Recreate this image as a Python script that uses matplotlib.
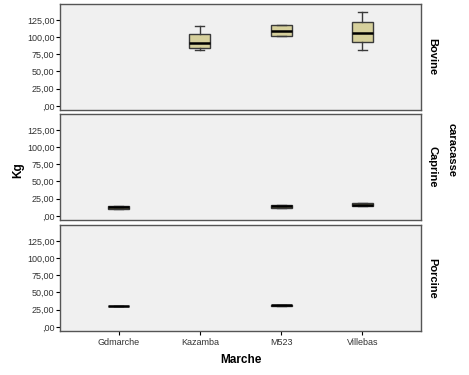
import matplotlib
matplotlib.use("Agg")
import matplotlib.pyplot as plt

# categories and facet rows
marches = ["Gdmarche", "Kazamba", "M523", "Villebas"]
especes = ["Bovine", "Caprine", "Porcine"]

# box stats: (position, whislo, q1, med, q3, whishi)
bovine = [(1, 81, 84, 92, 104, 116),
          (2, 102, 102, 109, 117, 117),
          (3, 81, 93, 106, 122, 136)]
caprine = [(0, 10, 10, 13, 15, 15),
           (2, 12, 12, 14, 16, 16),
           (3, 14, 14, 16, 18, 18)]
porcine = [(0, 30, 30, 30, 30, 30),
           (2, 30.5, 30.5, 31.5, 32.5, 32.5)]
series = [bovine, caprine, porcine]

yticks = [0, 25, 50, 75, 100, 125]
ytick_labels = [",00", "25,00", "50,00", "75,00", "100,00", "125,00"]

BOX_COLOR = "#d6d09c"
PANEL_BG = "#f0f0f0"

fig = plt.figure(figsize=(4.69, 3.75), dpi=100)
plt.rcParams["font.family"] = ["Liberation Sans", "DejaVu Sans"]

left, width, height = 60 / 469, 361 / 469, 106 / 375
bottoms = [1 - 110 / 375, 1 - 220 / 375, 1 - 331 / 375]

for i, (name, data) in enumerate(zip(especes, series)):
    ax = fig.add_axes([left, bottoms[i], width, height])
    ax.set_facecolor(PANEL_BG)
    stats = [dict(whislo=s[1], q1=s[2], med=s[3], q3=s[4], whishi=s[5],
                  fliers=[], label=marches[s[0]]) for s in data]
    pos = [s[0] for s in data]
    ax.bxp(stats, positions=pos, widths=0.26, patch_artist=True,
           boxprops=dict(facecolor=BOX_COLOR, edgecolor="#3a3a3a", linewidth=1),
           medianprops=dict(color="black", linewidth=1.8),
           whiskerprops=dict(color="#3a3a3a", linewidth=1),
           capprops=dict(color="#3a3a3a", linewidth=1),
           capwidths=0.11, showfliers=False)
    ax.set_xlim(-0.72, 3.72)
    ax.set_ylim(-6, 148)
    ax.set_yticks(yticks)
    ax.set_yticklabels(ytick_labels, fontsize=6.5, color="#333333")
    ax.tick_params(axis="y", length=3, width=0.8, pad=1)
    for sp in ax.spines.values():
        sp.set_color("#555555")
        sp.set_linewidth(1)
    if i < 2:
        ax.set_xticks([])
    else:
        ax.set_xticks(range(len(marches)))
        ax.set_xticklabels(marches, fontsize=6.5, color="#333333")
        ax.tick_params(axis="x", length=3, width=0.8, pad=2)
        ax.set_xlabel("Marche", fontsize=8.5, fontweight="bold", labelpad=5)
    ax.text(1.018, 0.5, name, transform=ax.transAxes, rotation=-90,
            ha="left", va="center", fontsize=8, fontweight="bold")

fig.text(18 / 469, 1 - 170 / 375, "Kg", rotation=90, ha="center", va="center",
         fontsize=8.5, fontweight="bold")
fig.text(452 / 469, 1 - 150 / 375, "caracasse", rotation=-90, ha="center",
         va="center", fontsize=8, fontweight="bold")

fig.savefig("out.png", dpi=100)
